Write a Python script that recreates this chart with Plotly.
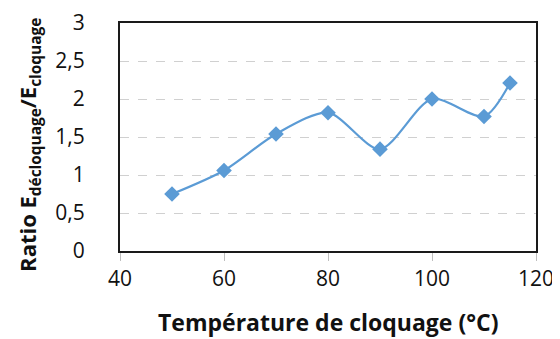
import plotly.graph_objects as go

temperature = [50, 60, 70, 80, 90, 100, 110, 115]
ratio = [0.75, 1.06, 1.54, 1.82, 1.34, 2.00, 1.77, 2.21]

x_ticks = [40, 60, 80, 100, 120]
y_ticks = [0, 0.5, 1, 1.5, 2, 2.5, 3]
y_tick_text = ["0", "0,5", "1", "1,5", "2", "2,5", "3"]

x_title = "<b>Température de cloquage (°C)</b>"
y_title = "<b>Ratio E<sub>décloquage</sub>/E<sub>cloquage</sub></b>"

FONT = "Open Sans, Liberation Sans, sans-serif"

fig = go.Figure()
fig.add_trace(go.Scatter(
    x=temperature, y=ratio, mode="lines+markers",
    line=dict(color="#5B9BD5", width=2.2, shape="spline", smoothing=0.8),
    marker=dict(symbol="diamond", size=12, color="#5B9BD5"),
    showlegend=False,
))

# page body has an 8px default margin; compensate in the figure margins
fig.update_layout(
    width=560, height=339,
    margin=dict(l=112, r=32, t=15, b=96),
    paper_bgcolor="white", plot_bgcolor="white",
    font=dict(family=FONT, color="#111111"),
    xaxis=dict(
        range=[40, 120], tickvals=x_ticks, ticktext=[str(v) for v in x_ticks],
        automargin=False,
        ticks="outside", ticklen=8, tickcolor="#BFBFBF", tickwidth=1,
        showgrid=False, zeroline=False,
        showline=True, mirror=True, linecolor="#1a1a1a", linewidth=2,
        tickfont=dict(size=21, family=FONT, color="#111111"),
    ),
    yaxis=dict(
        range=[0, 3], tickvals=y_ticks, ticktext=y_tick_text,
        automargin=False,
        ticks="", showgrid=True, gridcolor="#D0D0D0", griddash="dash", gridwidth=1,
        zeroline=False,
        showline=True, mirror=True, linecolor="#1a1a1a", linewidth=2,
        tickfont=dict(size=21, family=FONT, color="#111111"),
        ticklabelstandoff=29,
    ),
    annotations=[
        dict(text=x_title, xref="paper", yref="paper", x=0.5, y=-0.313,
             xanchor="center", yanchor="middle", showarrow=False,
             font=dict(size=23, family=FONT, color="#111111")),
        dict(text=y_title, xref="paper", yref="paper", x=-0.219, y=0.465,
             xanchor="center", yanchor="middle", showarrow=False, textangle=-90,
             font=dict(size=22, family=FONT, color="#111111")),
    ],
)

fig.write_html("out.html")
